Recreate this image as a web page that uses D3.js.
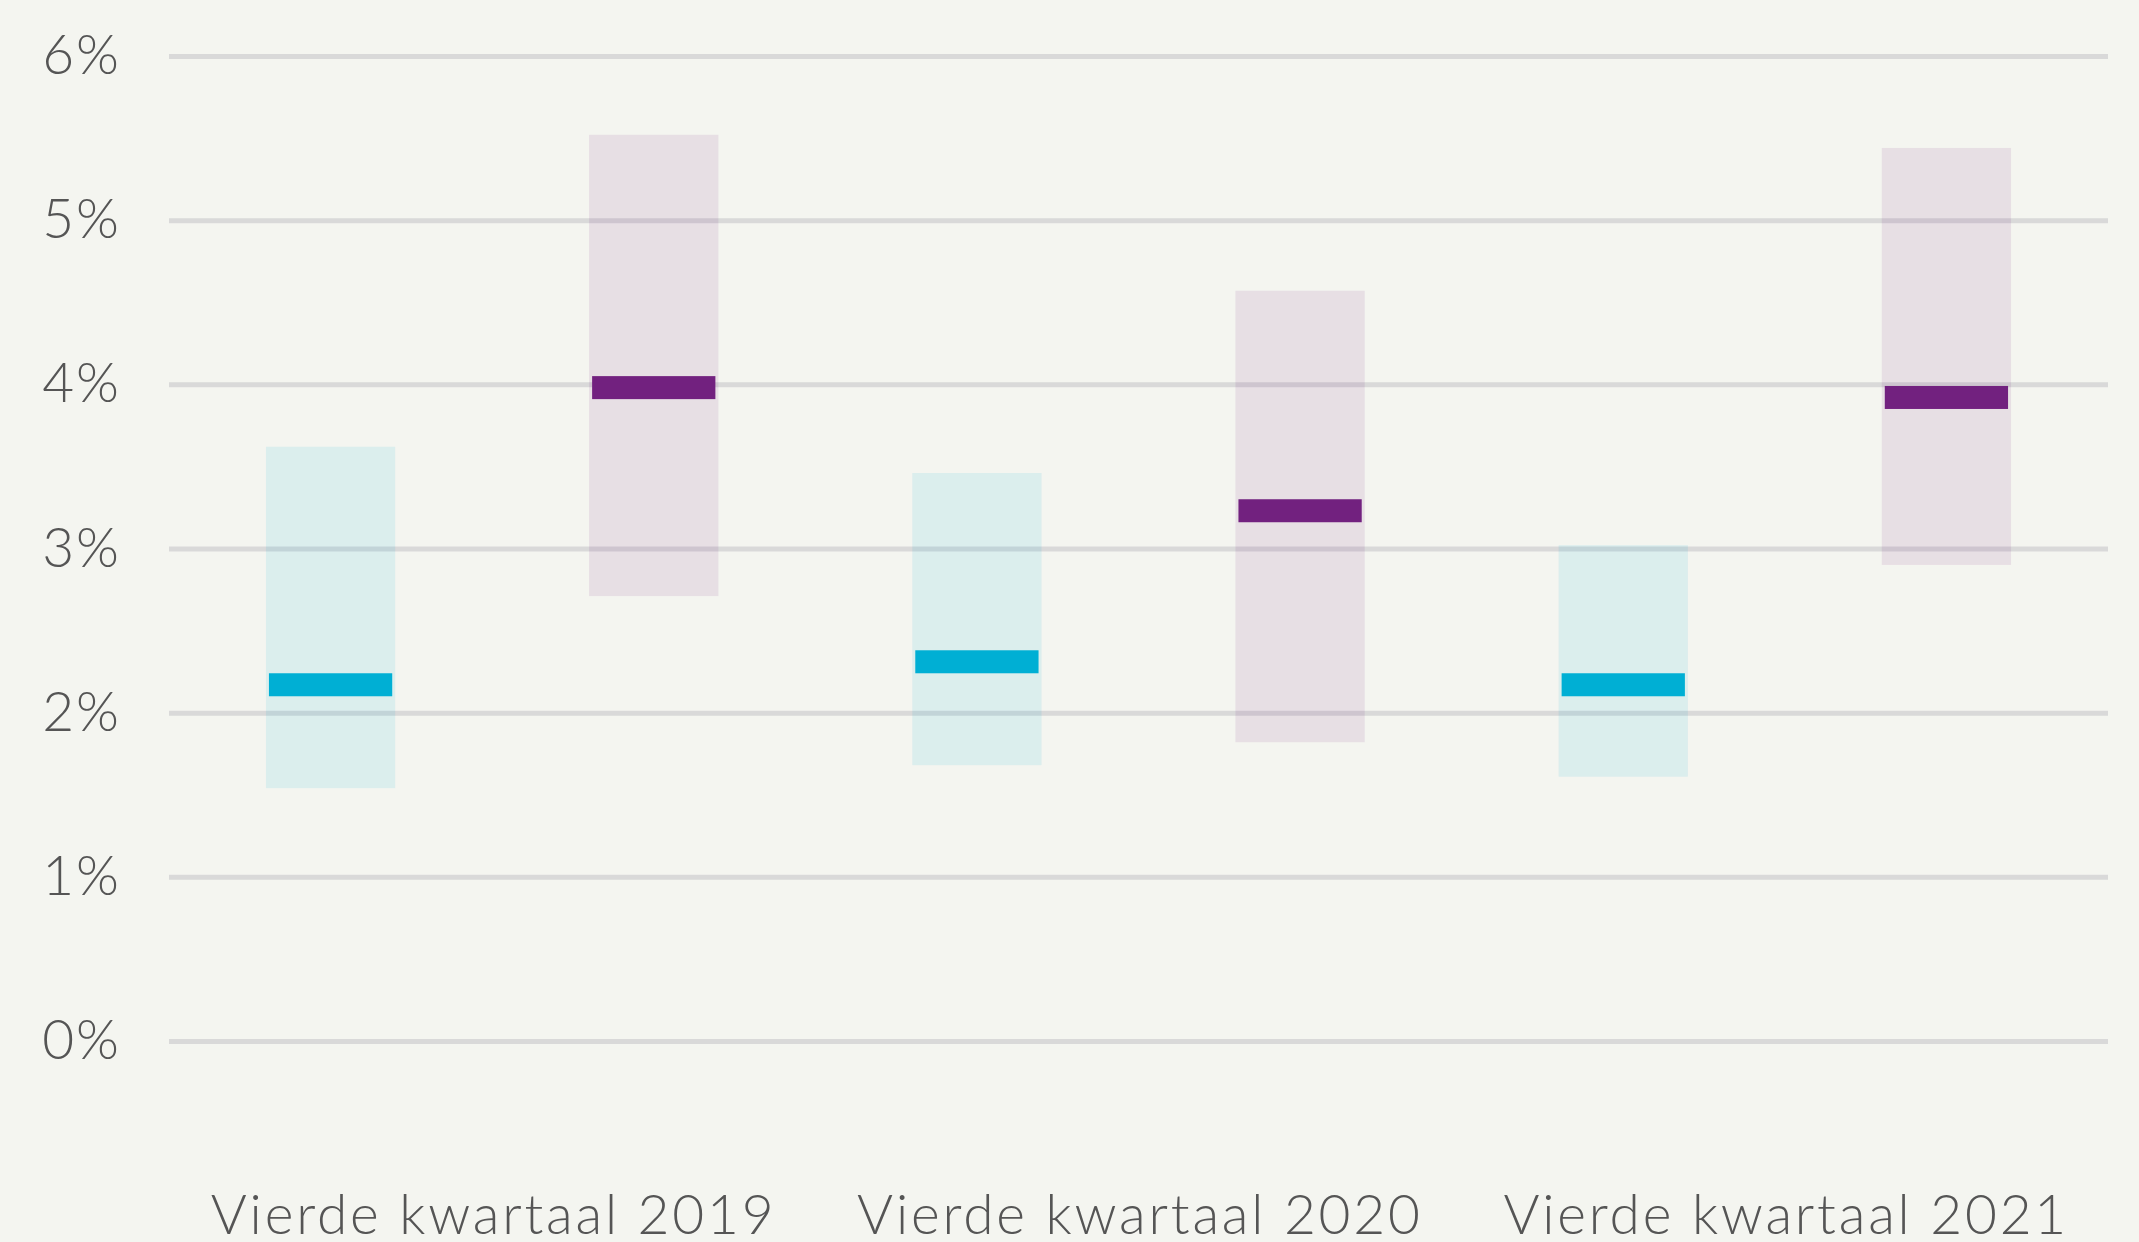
<!DOCTYPE html>
<html>
<head>
<meta charset="utf-8">
<script src="https://cdn.jsdelivr.net/npm/d3@7"></script>
<style>
  body { margin: 0; background: #f4f5f0; }
  svg { display: block; }
</style>
</head>
<body>
<script>
// data
const categories = ["Vierde kwartaal 2019", "Vierde kwartaal 2020", "Vierde kwartaal 2021"];
const series = ["blauw", "paars"];
const blauwLow = [1.54, 1.68, 1.61];
const blauwHigh = [3.62, 3.46, 3.02];
const blauwMid = [2.17, 2.31, 2.17];
const paarsLow = [2.71, 1.82, 2.90];
const paarsHigh = [5.52, 4.57, 5.44];
const paarsMid = [3.98, 3.23, 3.92];
const yTicks = [0, 1, 2, 3, 4, 5, 6];

const width = 2139, height = 1242;
const margin = { left: 169, right: 31, top: 56, bottom: 201 };
const fontSize = 55;
const colors = { blauw: "#00afd4", paars: "#72217f" };

const rows = [];
categories.forEach((c, i) => {
    rows.push({ cat: c, s: "blauw", low: blauwLow[i], high: blauwHigh[i], mid: blauwMid[i] });
    rows.push({ cat: c, s: "paars", low: paarsLow[i], high: paarsHigh[i], mid: paarsMid[i] });
});

const svg = d3.select("body").append("svg").attr("width", width).attr("height", height);

const x = d3.scaleBand().domain(categories).range([margin.left, width - margin.right]).padding(0);
const xSub = d3.scaleBand().domain(series).range([0, x.bandwidth()]).paddingInner(0.6).paddingOuter(0.3);
const y = d3.scaleLinear().domain([0, 6]).range([height - margin.bottom, margin.top]);

// ^ gridlines + y labels ^
const yAxis = svg.append("g")
    .attr("transform", `translate(${margin.left},0)`)
    .call(d3.axisLeft(y).tickValues(yTicks).tickSize(-(width - margin.left - margin.right)).tickPadding(48).tickFormat((d) => d + "%"));
yAxis.select(".domain").remove();
yAxis.selectAll("line").attr("stroke", "#d9d9d9").attr("stroke-width", 5);
yAxis.selectAll("text")
    .attr("fill", "#555")
    .style("font-family", "Lato, 'Open Sans', sans-serif")
    .style("font-weight", 300)
    .style("font-size", fontSize + "px")
    .style("letter-spacing", "2px");

// ^ x labels ^
const xAxis = svg.append("g")
    .attr("transform", `translate(0,${y(0)})`)
    .call(d3.axisBottom(x).tickSize(0).tickPadding(1234 - y(0) - 0.71 * fontSize));
xAxis.select(".domain").remove();
xAxis.selectAll("text")
    .attr("fill", "#555")
    .attr("dx", "1.4px")
    .style("font-family", "Lato, 'Open Sans', sans-serif")
    .style("font-weight", 300)
    .style("font-size", fontSize + "px")
    .style("letter-spacing", "2.8px");

// ^ ranges ^
const groups = svg.append("g").selectAll("g").data(rows).enter().append("g")
    .attr("transform", (d) => `translate(${x(d.cat) + xSub(d.s)},0)`);

groups.append("rect")
    .attr("x", 0)
    .attr("width", xSub.bandwidth())
    .attr("y", (d) => y(d.high))
    .attr("height", (d) => y(d.low) - y(d.high))
    .attr("fill", (d) => colors[d.s])
    .attr("fill-opacity", 0.1);

// ^ medians ^
groups.append("rect")
    .attr("x", 3)
    .attr("width", xSub.bandwidth() - 6)
    .attr("y", (d) => y(d.mid) - 11.5)
    .attr("height", 23)
    .attr("fill", (d) => colors[d.s]);
</script>
</body>
</html>
